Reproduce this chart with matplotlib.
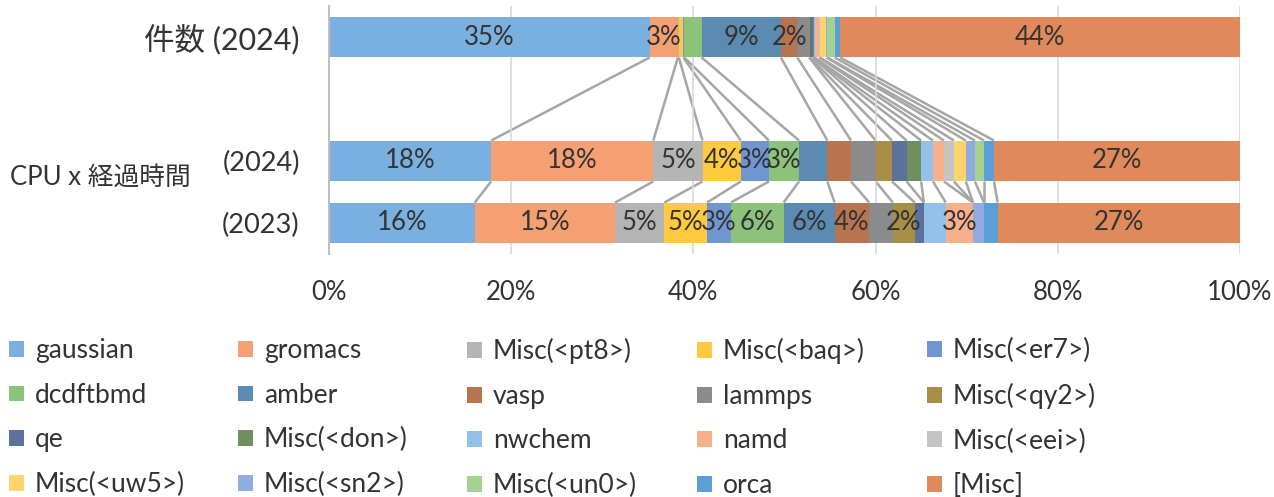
import numpy as np
import matplotlib.pyplot as plt
from matplotlib.patches import Patch

plt.rcParams["font.family"] = ["Lato", "Noto Sans CJK JP", "DejaVu Sans"]

# ---------------------------------------------------------------------------
# DATA (percent share of each application)
# ---------------------------------------------------------------------------
apps = ["gaussian", "gromacs", "Misc(<pt8>)", "Misc(<baq>)", "Misc(<er7>)",
        "dcdftbmd", "amber", "vasp", "lammps", "Misc(<qy2>)",
        "qe", "Misc(<don>)", "nwchem", "namd", "Misc(<eei>)",
        "Misc(<uw5>)", "Misc(<sn2>)", "Misc(<un0>)", "orca", "[Misc]"]

count_2024 = [35.2, 3.1, 0.1, 0.5, 0.1, 1.9, 8.7, 1.8, 1.3, 0.1,
              0.3, 0.1, 0.1, 0.5, 0.1, 0.7, 0.1, 0.8, 0.6, 43.9]
cpu_2024 = [17.8, 17.8, 5.4, 4.2, 3.1, 3.3, 3.1, 2.6, 2.7, 1.8,
            1.6, 1.6, 1.3, 1.2, 1.1, 1.3, 1.0, 1.0, 1.1, 27.0]
cpu_2023 = [16.0, 15.4, 5.4, 4.7, 2.6, 5.8, 5.6, 3.8, 2.6, 2.4,
            1.0, 0.0, 2.4, 3.0, 0.0, 0.0, 1.2, 0.0, 1.5, 26.6]

# which segments carry a data label (index into apps)
labeled_count_2024 = [0, 1, 6, 7, 19]
labeled_cpu_2024 = [0, 1, 2, 3, 4, 5, 19]
labeled_cpu_2023 = [0, 1, 2, 3, 4, 5, 6, 7, 9, 13, 19]

row_labels = ["件数 (2024)", "", "(2024)", "(2023)"]
group_label = "CPU x 経過時間"

colors = ["#79B0DF", "#F4A073", "#B4B4B4", "#FFC940", "#6F96D1",
          "#8DC27B", "#5B8AB3", "#B7744F", "#8B8B8D", "#A98F45",
          "#5B729C", "#6F8F5F", "#93C1E9", "#F7AF8C", "#C4C4C4",
          "#FFD46E", "#8FADDF", "#A4D391", "#5A9FD7", "#E08A5B"]

TEXT = "#333333"
LINE = "#A6A6A6"

# ---------------------------------------------------------------------------
# FIGURE
# ---------------------------------------------------------------------------
fig = plt.figure(figsize=(12.74, 4.97), dpi=100)
ax = fig.add_axes([329 / 1274, 1 - 254 / 497, 911 / 1274, 248 / 497])

rows = [(0, count_2024, labeled_count_2024),
        (2, cpu_2024, labeled_cpu_2024),
        (3, cpu_2023, labeled_cpu_2023)]
h = 0.66

for ypos, vals, labeled in rows:
    vals = np.array(vals)
    left = np.concatenate([[0], np.cumsum(vals)[:-1]])
    ax.barh(ypos, vals, left=left, height=h, color=colors, linewidth=0, zorder=2)
    for i in labeled:
        ax.text(left[i] + vals[i] / 2, ypos, f"{vals[i]:.0f}%", ha="center",
                va="center", fontsize=18.5, color=TEXT, zorder=4)

# series lines between neighbouring bars
pairs = [(rows[0], rows[1]), (rows[1], rows[2])]
for (y_a, v_a, _), (y_b, v_b, _) in pairs:
    cum_a = np.cumsum(v_a)[:-1]
    cum_b = np.cumsum(v_b)[:-1]
    for xa, xb in zip(cum_a, cum_b):
        ax.plot([xa, xb], [y_a + h / 2, y_b - h / 2], color=LINE, lw=1.8,
                zorder=1, solid_capstyle="butt")

ax.set_xlim(0, 100)
ax.set_ylim(3.5, -0.5)
ax.set_xticks(np.arange(0, 101, 20))
ax.set_xticklabels([f"{t}%" for t in range(0, 101, 20)])
ax.set_yticks(range(4))
ax.set_yticklabels(row_labels)
ax.tick_params(axis="x", length=0, pad=19, labelsize=18.5, labelcolor=TEXT)
ax.tick_params(axis="y", length=0, pad=21, labelsize=19.5, labelcolor=TEXT)
ax.get_yticklabels()[0].set_fontsize(22)

ax.grid(axis="x", color="#D9D9D9", lw=1.2, zorder=0)
for s in ["top", "right", "bottom"]:
    ax.spines[s].set_visible(False)
ax.spines["left"].set_color("#BFBFBF")
ax.spines["left"].set_linewidth(1.5)

fig.text(10 / 1274, 1 - 177 / 497, group_label, ha="left", va="center",
         fontsize=18.5, color=TEXT)

# legend: 5 columns, filled row by row
handles = [Patch(facecolor=c, edgecolor="none") for c in colors]
col_x = [4, 233, 462, 692, 922]
for c, x0 in enumerate(col_x):
    idx = [r * 5 + c for r in range(4)]
    fig.legend([handles[i] for i in idx], [apps[i] for i in idx],
               loc="upper left", bbox_to_anchor=(x0 / 1274, 1 - 333 / 497),
               frameon=False, fontsize=19, labelcolor=TEXT,
               handlelength=0.55, handleheight=0.55, handletextpad=0.42,
               labelspacing=0.74, borderpad=0.2, borderaxespad=0)

fig.savefig("out.png", dpi=100)
